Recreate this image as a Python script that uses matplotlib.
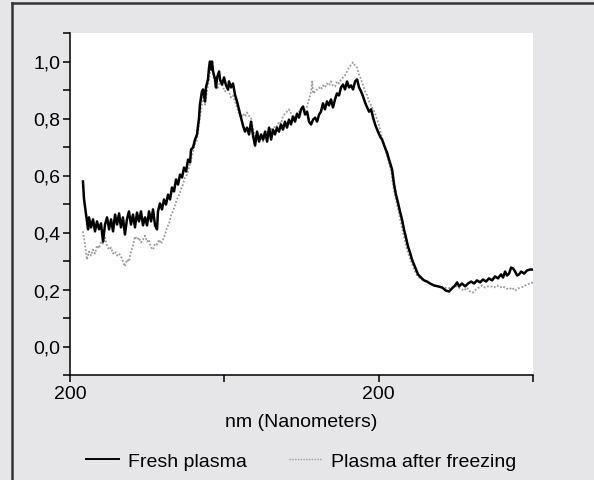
import matplotlib
matplotlib.use("Agg")
import matplotlib.pyplot as plt
from matplotlib.lines import Line2D
import numpy as np

# ---- data (x in arbitrary axis units 0..300, y normalized absorbance) ----
fresh_x = [8.4, 9.1, 10.2, 11.0, 11.7, 12.3, 13.6, 14.9, 16.2, 17.5, 18.8, 20.1, 21.4, 22.7, 24.0, 25.3,
           26.6, 27.9, 29.2, 30.5, 31.8, 33.0, 34.3, 35.6, 36.9, 38.2, 39.5, 40.8, 42.1, 43.4, 44.7, 46.0,
           47.3, 48.6, 49.9, 51.2, 52.5, 53.8, 55.1, 56.4, 57.0, 58.3, 59.6, 60.9, 62.2, 63.5, 64.8, 66.1,
           67.4, 68.7, 70.0, 71.3, 72.6, 73.9, 75.2, 76.5, 77.8, 78.4, 79.7, 81.0, 82.3, 83.6, 84.2, 85.5,
           86.2, 87.5, 88.1, 89.4, 90.1, 90.7, 91.4, 92.0, 92.7, 94.0, 94.6, 95.3, 96.6, 97.2, 98.5, 99.8,
           101.1, 102.4, 103.0, 104.3, 105.6, 106.9, 108.2, 109.5, 110.8, 112.1, 113.4, 114.7, 116.0, 117.3,
           118.6, 119.9, 121.2, 122.5, 123.8, 125.1, 126.4, 127.7, 129.0, 130.3, 131.5, 132.8, 134.1, 135.4,
           136.7, 138.0, 139.3, 140.6, 141.9, 143.2, 144.5, 145.8, 147.1, 148.4, 149.7, 151.0, 152.3, 153.6,
           154.9, 156.2, 157.5, 158.8, 160.1, 161.4, 162.6, 163.9, 165.2, 166.5, 167.8, 169.1, 170.4, 171.7,
           173.0, 174.3, 175.6, 176.9, 178.2, 179.5, 180.8, 182.1, 183.4, 184.7, 186.0, 187.3, 188.6, 189.9,
           191.2, 192.5, 193.8, 195.1, 196.4, 197.7, 199.0, 200.9, 202.2, 204.1, 205.4, 206.7, 208.7, 210.0,
           211.2, 212.5, 213.8, 215.1, 216.4, 217.7, 219.0, 220.3, 221.6, 222.9, 224.2, 225.5, 227.4, 229.4,
           231.3, 233.3, 235.9, 238.5, 241.1, 243.6, 245.6, 247.5, 249.5, 250.8, 252.1, 254.0, 256.0, 257.9,
           259.9, 261.8, 263.7, 265.7, 267.6, 269.6, 271.5, 273.5, 275.4, 277.3, 279.3, 280.6, 281.9, 283.2,
           284.5, 285.8, 287.1, 288.4, 289.7, 291.0, 292.3, 294.2, 296.2, 298.1, 300.0]
fresh_y = [0.579, 0.516, 0.470, 0.439, 0.411, 0.453, 0.418, 0.446, 0.404, 0.439, 0.411, 0.432, 0.368, 0.428,
           0.453, 0.411, 0.446, 0.404, 0.463, 0.428, 0.467, 0.418, 0.453, 0.393, 0.446, 0.474, 0.428, 0.463,
           0.418, 0.470, 0.439, 0.474, 0.425, 0.453, 0.425, 0.474, 0.439, 0.481, 0.425, 0.411, 0.474, 0.502,
           0.481, 0.516, 0.498, 0.533, 0.516, 0.558, 0.544, 0.586, 0.568, 0.603, 0.593, 0.628, 0.614, 0.656,
           0.646, 0.691, 0.698, 0.726, 0.744, 0.803, 0.849, 0.895, 0.902, 0.860, 0.909, 0.937, 0.979, 1.000,
           0.972, 1.000, 0.965, 0.937, 0.909, 0.944, 0.965, 0.937, 0.919, 0.944, 0.916, 0.902, 0.930, 0.909,
           0.923, 0.884, 0.860, 0.832, 0.803, 0.775, 0.754, 0.768, 0.744, 0.789, 0.740, 0.705, 0.754, 0.719,
           0.744, 0.726, 0.754, 0.719, 0.768, 0.726, 0.761, 0.744, 0.768, 0.754, 0.779, 0.761, 0.789, 0.768,
           0.796, 0.779, 0.807, 0.789, 0.817, 0.803, 0.832, 0.842, 0.814, 0.824, 0.789, 0.779, 0.796, 0.803,
           0.789, 0.814, 0.824, 0.853, 0.832, 0.860, 0.846, 0.867, 0.839, 0.867, 0.888, 0.881, 0.909, 0.919,
           0.902, 0.930, 0.909, 0.916, 0.902, 0.930, 0.937, 0.909, 0.895, 0.877, 0.856, 0.839, 0.824, 0.832,
           0.803, 0.779, 0.761, 0.737, 0.726, 0.698, 0.681, 0.656, 0.621, 0.568, 0.533, 0.505, 0.474, 0.446,
           0.411, 0.382, 0.351, 0.330, 0.305, 0.288, 0.270, 0.253, 0.242, 0.232, 0.228, 0.221, 0.214, 0.211,
           0.207, 0.196, 0.193, 0.204, 0.214, 0.225, 0.211, 0.221, 0.211, 0.221, 0.228, 0.221, 0.232, 0.225,
           0.235, 0.228, 0.239, 0.232, 0.246, 0.239, 0.253, 0.242, 0.263, 0.249, 0.256, 0.277, 0.274, 0.263,
           0.249, 0.253, 0.263, 0.256, 0.267, 0.270, 0.270]

frozen_x = [8.4, 9.7, 11.0, 12.3, 13.6, 14.9, 16.2, 17.5, 18.8, 20.1, 21.4, 22.7, 24.0, 25.3, 26.6, 27.9,
            29.2, 30.5, 31.8, 33.0, 34.3, 35.6, 36.9, 38.2, 39.5, 40.8, 42.1, 43.4, 44.7, 46.0, 47.3, 48.6,
            49.9, 51.2, 52.5, 53.8, 55.1, 56.4, 57.7, 59.0, 60.3, 61.6, 62.9, 64.2, 65.4, 66.7, 68.0, 69.3,
            70.6, 71.9, 73.2, 74.5, 75.8, 77.1, 78.4, 79.7, 81.0, 82.3, 83.6, 84.9, 86.2, 87.5, 88.8, 90.1,
            91.4, 92.7, 94.0, 95.3, 96.6, 97.9, 99.2, 100.5, 101.8, 103.0, 104.3, 105.6, 106.9, 108.2, 109.5,
            110.8, 112.1, 113.4, 114.7, 116.0, 117.3, 118.6, 119.9, 121.2, 122.5, 123.8, 125.1, 126.4, 127.7,
            129.0, 130.3, 131.5, 132.8, 134.1, 135.4, 136.7, 138.0, 139.3, 140.6, 141.9, 143.2, 144.5, 145.8,
            147.1, 148.4, 149.7, 151.0, 152.3, 153.6, 154.9, 156.2, 156.9, 157.5, 158.8, 160.1, 161.4, 162.6,
            163.9, 165.2, 166.5, 167.8, 169.1, 170.4, 171.7, 173.0, 174.3, 175.6, 176.9, 178.2, 179.5, 180.8,
            182.1, 183.4, 184.7, 186.0, 187.3, 188.6, 189.9, 191.2, 192.5, 193.8, 195.1, 196.4, 197.7, 199.0,
            200.3, 201.6, 202.9, 204.1, 205.4, 206.7, 208.0, 209.3, 210.6, 211.9, 213.2, 214.5, 215.8, 217.1,
            218.4, 219.7, 221.0, 222.3, 223.6, 224.9, 226.8, 228.8, 230.7, 232.6, 234.6, 237.2, 239.8, 242.3,
            244.9, 247.5, 250.1, 252.7, 255.3, 257.2, 259.2, 261.1, 263.1, 265.0, 267.0, 268.9, 270.8, 272.8,
            274.8, 276.7, 278.6, 280.6, 282.6, 284.5, 286.4, 288.4, 290.3, 292.3, 294.2, 296.2, 298.1, 300.0]
frozen_y = [0.404, 0.358, 0.305, 0.333, 0.319, 0.340, 0.326, 0.354, 0.344, 0.368, 0.361, 0.382, 0.354, 0.340,
            0.347, 0.326, 0.333, 0.319, 0.326, 0.316, 0.298, 0.281, 0.305, 0.298, 0.333, 0.354, 0.386, 0.375,
            0.382, 0.365, 0.375, 0.389, 0.368, 0.375, 0.347, 0.340, 0.361, 0.358, 0.375, 0.361, 0.375, 0.393,
            0.418, 0.432, 0.460, 0.474, 0.495, 0.516, 0.530, 0.551, 0.568, 0.593, 0.603, 0.628, 0.656, 0.684,
            0.709, 0.726, 0.779, 0.832, 0.874, 0.849, 0.895, 0.937, 0.989, 0.954, 0.923, 0.902, 0.919, 0.937,
            0.909, 0.895, 0.909, 0.895, 0.874, 0.881, 0.860, 0.839, 0.814, 0.803, 0.817, 0.807, 0.821, 0.810,
            0.803, 0.761, 0.733, 0.751, 0.726, 0.733, 0.719, 0.740, 0.754, 0.747, 0.768, 0.754, 0.775, 0.772,
            0.789, 0.782, 0.807, 0.817, 0.824, 0.832, 0.817, 0.803, 0.803, 0.817, 0.824, 0.832, 0.828, 0.832,
            0.842, 0.867, 0.895, 0.930, 0.888, 0.895, 0.902, 0.909, 0.902, 0.916, 0.909, 0.923, 0.916, 0.930,
            0.916, 0.912, 0.930, 0.923, 0.937, 0.944, 0.951, 0.965, 0.979, 0.989, 0.997, 0.986, 0.979, 0.954,
            0.937, 0.916, 0.895, 0.881, 0.860, 0.846, 0.832, 0.817, 0.796, 0.775, 0.744, 0.719, 0.691, 0.670,
            0.646, 0.614, 0.568, 0.530, 0.498, 0.467, 0.432, 0.400, 0.368, 0.340, 0.319, 0.298, 0.281, 0.263,
            0.249, 0.239, 0.232, 0.228, 0.225, 0.218, 0.214, 0.207, 0.207, 0.204, 0.207, 0.211, 0.204, 0.196,
            0.207, 0.193, 0.189, 0.200, 0.207, 0.214, 0.207, 0.211, 0.211, 0.207, 0.214, 0.207, 0.211, 0.204,
            0.200, 0.207, 0.196, 0.204, 0.207, 0.211, 0.218, 0.221, 0.225]

x_ticks = [0, 100, 200, 300]
x_tick_labels = ["200", "", "200", ""]
y_ticks = [0.0, 0.2, 0.4, 0.6, 0.8, 1.0]
y_tick_labels = ["0,0", "0,2", "0,4", "0,6", "0,8", "1,0"]
series_labels = ["Fresh plasma", "Plasma after freezing"]
x_label = "nm (Nanometers)"

plt.rcParams['font.family'] = ['Liberation Sans', 'DejaVu Sans']
BG = "#e6e6e8"
FS = 14

fig = plt.figure(figsize=(5.94, 4.81), dpi=100, facecolor=BG)
ax = fig.add_axes([70/594, 1-376/481, 463/594, (376-34)/481])
ax.set_facecolor("white")

ax.plot(frozen_x, frozen_y, color="#9a9a9a", lw=1.3, ls=(0, (1, 1)), label=series_labels[1], zorder=2)
ax.plot(fresh_x, fresh_y, color="black", lw=1.8, label=series_labels[0], zorder=3)

ax.set_xlim(0, 300)
ax.set_ylim(-0.1, 1.1)
ax.set_xticks(x_ticks)
ax.set_xticklabels(x_tick_labels)
ax.set_yticks(y_ticks)
ax.set_yticklabels(y_tick_labels)
ax.set_yticks(np.arange(-0.1, 1.11, 0.1), minor=True)
ax.tick_params(axis='both', which='both', direction='out', length=5, width=1.1,
               color='black', labelsize=FS, pad=2)
for s in ['top', 'right']:
    ax.spines[s].set_visible(False)
for s in ['left', 'bottom']:
    ax.spines[s].set_linewidth(1.1)

fig.text(301.5/594, 1-423/481, x_label, ha='center', va='center', fontsize=FS)

handles = [Line2D([], [], color='black', lw=1.4),
           Line2D([], [], color='#9a9a9a', lw=1.0, ls=(0, (1, 1)))]
fig.legend(handles, series_labels, loc='center', bbox_to_anchor=(301/594, 1-462/481),
           ncol=2, frameon=False, fontsize=FS, handlelength=1.7, handletextpad=0.45,
           columnspacing=2.2)

# frame lines (top and left)
fig.add_artist(Line2D([11.5/594, 1.0], [1-3.5/481, 1-3.5/481], transform=fig.transFigure,
                      color='#333333', lw=1.8))
fig.add_artist(Line2D([11.5/594, 11.5/594], [0, 1-3.5/481], transform=fig.transFigure,
                      color='#333333', lw=1.8))

fig.savefig("out.png", dpi=100, facecolor=BG)
